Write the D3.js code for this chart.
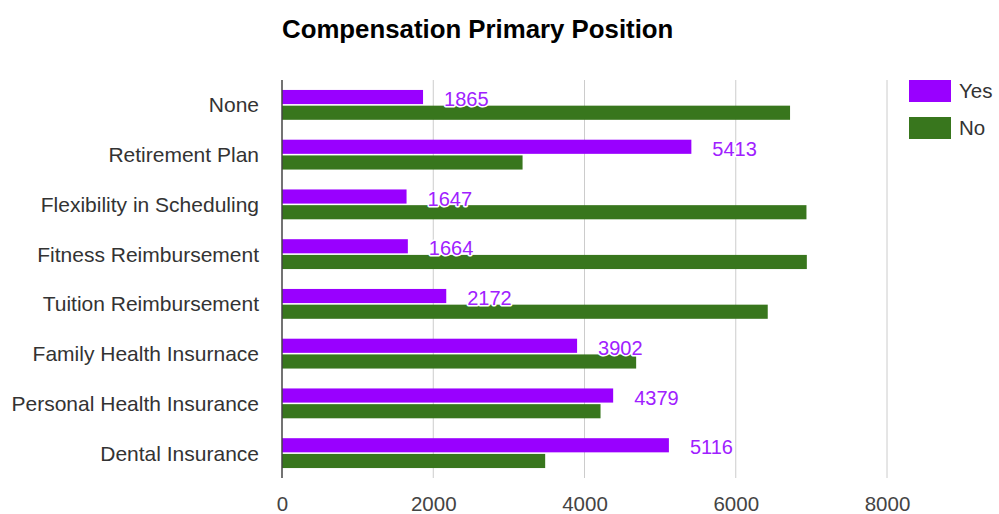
<!DOCTYPE html>
<html>
<head>
<meta charset="utf-8">
<script src="https://cdn.jsdelivr.net/npm/d3@7"></script>
<style>
  body { margin: 0; background: #fff; }
  text { font-family: "Liberation Sans", Arial, sans-serif; }
</style>
</head>
<body>
<div id="chart"></div>
<script>
const categories = ["None", "Retirement Plan", "Flexibility in Scheduling", "Fitness Reimbursement",
  "Tuition Reimbursement", "Family Health Insurnace", "Personal Health Insurance", "Dental Insurance"];
const series = ["Yes", "No"];
const yesValues = [1865, 5413, 1647, 1664, 2172, 3902, 4379, 5116];
const noValues = [6718, 3181, 6935, 6940, 6423, 4683, 4212, 3480];
const xTicks = [0, 2000, 4000, 6000, 8000];
const colors = { Yes: "#9900ff", No: "#38761d" };

const width = 999, height = 514;
const plot = { left: 282, right: 887, top: 80, bottom: 478 };

const svg = d3.select("#chart")
  .append("svg")
  .attr("width", width)
  .attr("height", height);

const x = d3.scaleLinear().domain([0, 8000]).range([plot.left, plot.right]);

const y = d3.scaleBand()
  .domain(categories)
  .range([plot.top, plot.bottom])
  .paddingInner(0.4)
  .paddingOuter(0.2);

const ySub = d3.scaleBand()
  .domain(series)
  .range([0, y.bandwidth()])
  .paddingInner(0.1);

// Title
svg.append("text")
  .attr("x", 282)
  .attr("y", 38)
  .text("Compensation Primary Position")
  .style("font-size", "25.8px")
  .style("font-weight", "bold")
  .style("fill", "#000");

// Gridlines
svg.append("g")
  .selectAll("line")
  .data(xTicks.filter(d => d > 0))
  .join("line")
  .attr("x1", d => x(d))
  .attr("x2", d => x(d))
  .attr("y1", plot.top)
  .attr("y2", plot.bottom)
  .style("stroke", "#cccccc")
  .style("stroke-width", 1);

// Bottom axis labels
const xAxis = d3.axisBottom(x).tickValues(xTicks).tickFormat(d3.format("d")).tickSize(0).tickPadding(0);
const gx = svg.append("g")
  .attr("transform", `translate(0, ${plot.bottom})`)
  .call(xAxis);
gx.select(".domain").remove();
gx.selectAll("text")
  .attr("y", 33)
  .attr("dy", 0)
  .style("font-size", "20.5px")
  .style("fill", "#444");

// Category labels
const yAxis = d3.axisLeft(y).tickSize(0).tickPadding(23);
const gy = svg.append("g")
  .attr("transform", `translate(${plot.left}, 0)`)
  .call(yAxis);
gy.select(".domain").remove();
gy.selectAll("text")
  .attr("dy", "0.36em")
  .style("font-size", "21px")
  .style("fill", "#333");

// Bars
const rows = categories.map((c, i) => ({ category: c, Yes: yesValues[i], No: noValues[i] }));

const groups = svg.append("g")
  .selectAll("g")
  .data(rows)
  .join("g")
  .attr("transform", d => `translate(0, ${y(d.category)})`);

groups.selectAll("rect")
  .data(d => series.map(s => ({ key: s, value: d[s] })))
  .join("rect")
  .attr("x", x(0))
  .attr("y", d => ySub(d.key))
  .attr("width", d => x(d.value) - x(0))
  .attr("height", ySub.bandwidth())
  .style("fill", d => colors[d.key]);

// Value labels for Yes
groups.append("text")
  .attr("x", d => x(d.Yes) + 21)
  .attr("y", d => ySub("Yes") + ySub.bandwidth() / 2 + 9)
  .text(d => d.Yes)
  .style("font-size", "20px")
  .style("fill", "#a020ff")
  .style("stroke", "#fff")
  .style("stroke-width", 3)
  .style("stroke-linejoin", "round")
  .style("paint-order", "stroke");

// Axis line
svg.append("line")
  .attr("x1", x(0))
  .attr("x2", x(0))
  .attr("y1", plot.top)
  .attr("y2", plot.bottom)
  .style("stroke", "#444")
  .style("stroke-width", 1.5);

// Legend
const legend = svg.append("g")
  .selectAll("g")
  .data(series)
  .join("g")
  .attr("transform", (d, i) => `translate(909, ${80 + i * 37})`);

legend.append("rect")
  .attr("width", 42)
  .attr("height", 22)
  .style("fill", d => colors[d]);

legend.append("text")
  .attr("x", 50)
  .attr("y", 18)
  .text(d => d)
  .style("font-size", "20.5px")
  .style("fill", "#333");
</script>
</body>
</html>
